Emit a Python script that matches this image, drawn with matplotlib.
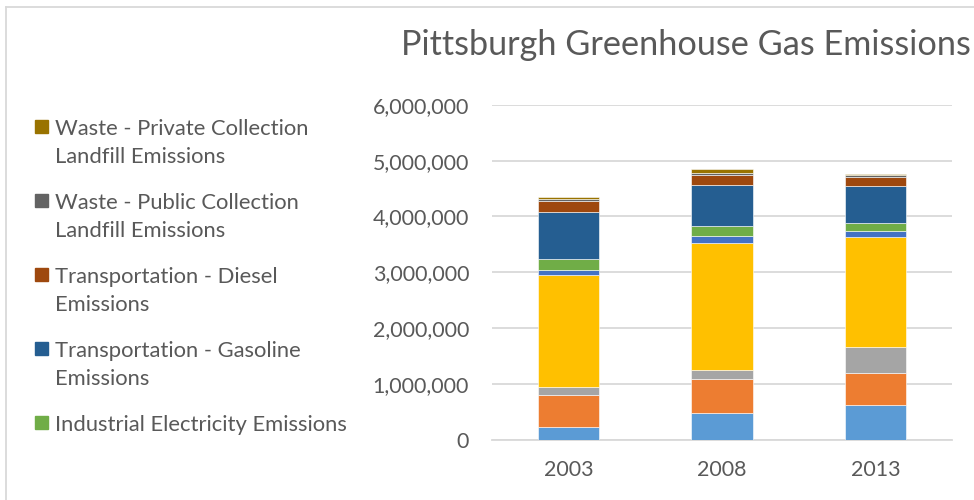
import matplotlib
matplotlib.use("Agg")
import matplotlib.pyplot as plt
from matplotlib.patches import Rectangle
from matplotlib.lines import Line2D
from matplotlib.ticker import FuncFormatter
import numpy as np

plt.rcParams["font.family"] = ["Lato", "DejaVu Sans"]

years = ["2003", "2008", "2013"]

# series, bottom to top of each stack
series_names = [
    "Residential Electricity Emissions",
    "Residential Natural Gas Emissions",
    "Commercial Natural Gas Emissions",
    "Commercial Electricity Emissions",
    "Industrial Natural Gas Emissions",
    "Industrial Electricity Emissions",
    "Transportation - Gasoline\nEmissions",
    "Transportation - Diesel\nEmissions",
    "Waste - Public Collection\nLandfill Emissions",
    "Waste - Private Collection\nLandfill Emissions",
]
res_electricity = [220000, 478000, 627000]
res_natgas = [580000, 609000, 561000]
com_natgas = [144000, 154000, 465000]
com_electricity = [2000000, 2288000, 1971000]
ind_natgas = [90000, 125000, 107000]
ind_electricity = [206000, 184000, 155000]
trans_gasoline = [834000, 722000, 663000]
trans_diesel = [200000, 187000, 167000]
waste_public = [47000, 30000, 24000]
waste_private = [30000, 83000, 24000]

series_values = [res_electricity, res_natgas, com_natgas, com_electricity,
                 ind_natgas, ind_electricity, trans_gasoline, trans_diesel,
                 waste_public, waste_private]
colors = ["#5B9BD5", "#ED7D31", "#A5A5A5", "#FFC000", "#4472C4",
          "#70AD47", "#255E91", "#9E480E", "#636363", "#997300"]
legend_shown = 5  # the legend in the original only shows the top five series

TEXT = "#595959"
GRID = "#D9D9D9"

W, H = 974, 500
fig = plt.figure(figsize=(W / 100, H / 100), dpi=100)
ax = fig.add_axes([492 / W, (H - 439.5) / H, (952 - 492) / W, (439.5 - 105) / H])

x = np.arange(len(years))
bottom = np.zeros(len(years))
for name, vals, col in zip(series_names, series_values, colors):
    ax.bar(x, vals, width=0.4, bottom=bottom, color=col,
           edgecolor="white", linewidth=0.4, zorder=3)
    bottom += np.array(vals)

ax.set_xlim(-0.5, 2.5)
ax.set_ylim(0, 6000000)
ax.set_yticks(np.arange(0, 6000001, 1000000))
ax.yaxis.set_major_formatter(FuncFormatter(lambda v, p: f"{int(v):,}"))
ax.set_xticks(x)
ax.set_xticklabels(years)
ax.grid(axis="y", color=GRID, linewidth=1.3, zorder=0)
for s in ["top", "right", "left"]:
    ax.spines[s].set_visible(False)
ax.spines["bottom"].set_color(GRID)
ax.spines["bottom"].set_linewidth(1.3)
ax.tick_params(axis="both", length=0, colors=TEXT, labelsize=15.4)
ax.tick_params(axis="y", pad=16.5)
ax.tick_params(axis="x", pad=15)

fig.text(686 / W, 1 - 45 / H, "Pittsburgh Greenhouse Gas Emissions",
         ha="center", va="center", fontsize=24.7, color=TEXT)

# legend drawn by hand (top series first)
y0 = 127
step = 74
for i, k in enumerate(range(len(series_names) - 1, len(series_names) - 1 - legend_shown, -1)):
    yc = y0 + i * step
    fig.patches.append(Rectangle((35 / W, 1 - (yc + 6) / H), 13 / W, 13 / H,
                                 transform=fig.transFigure, color=colors[k]))
    fig.text(55 / W, 1 - (yc - 8) / H, series_names[k], ha="left", va="top",
             fontsize=15.8, color=TEXT, linespacing=1.52)

# chart frame (only top and left visible in crop)
fig.add_artist(Line2D([6 / W, 6 / W], [0, 1 - 7 / H], transform=fig.transFigure,
                      color=GRID, linewidth=1.3))
fig.add_artist(Line2D([6 / W, 1], [1 - 7 / H, 1 - 7 / H], transform=fig.transFigure,
                      color=GRID, linewidth=1.3))

fig.savefig("out.png", dpi=100)
